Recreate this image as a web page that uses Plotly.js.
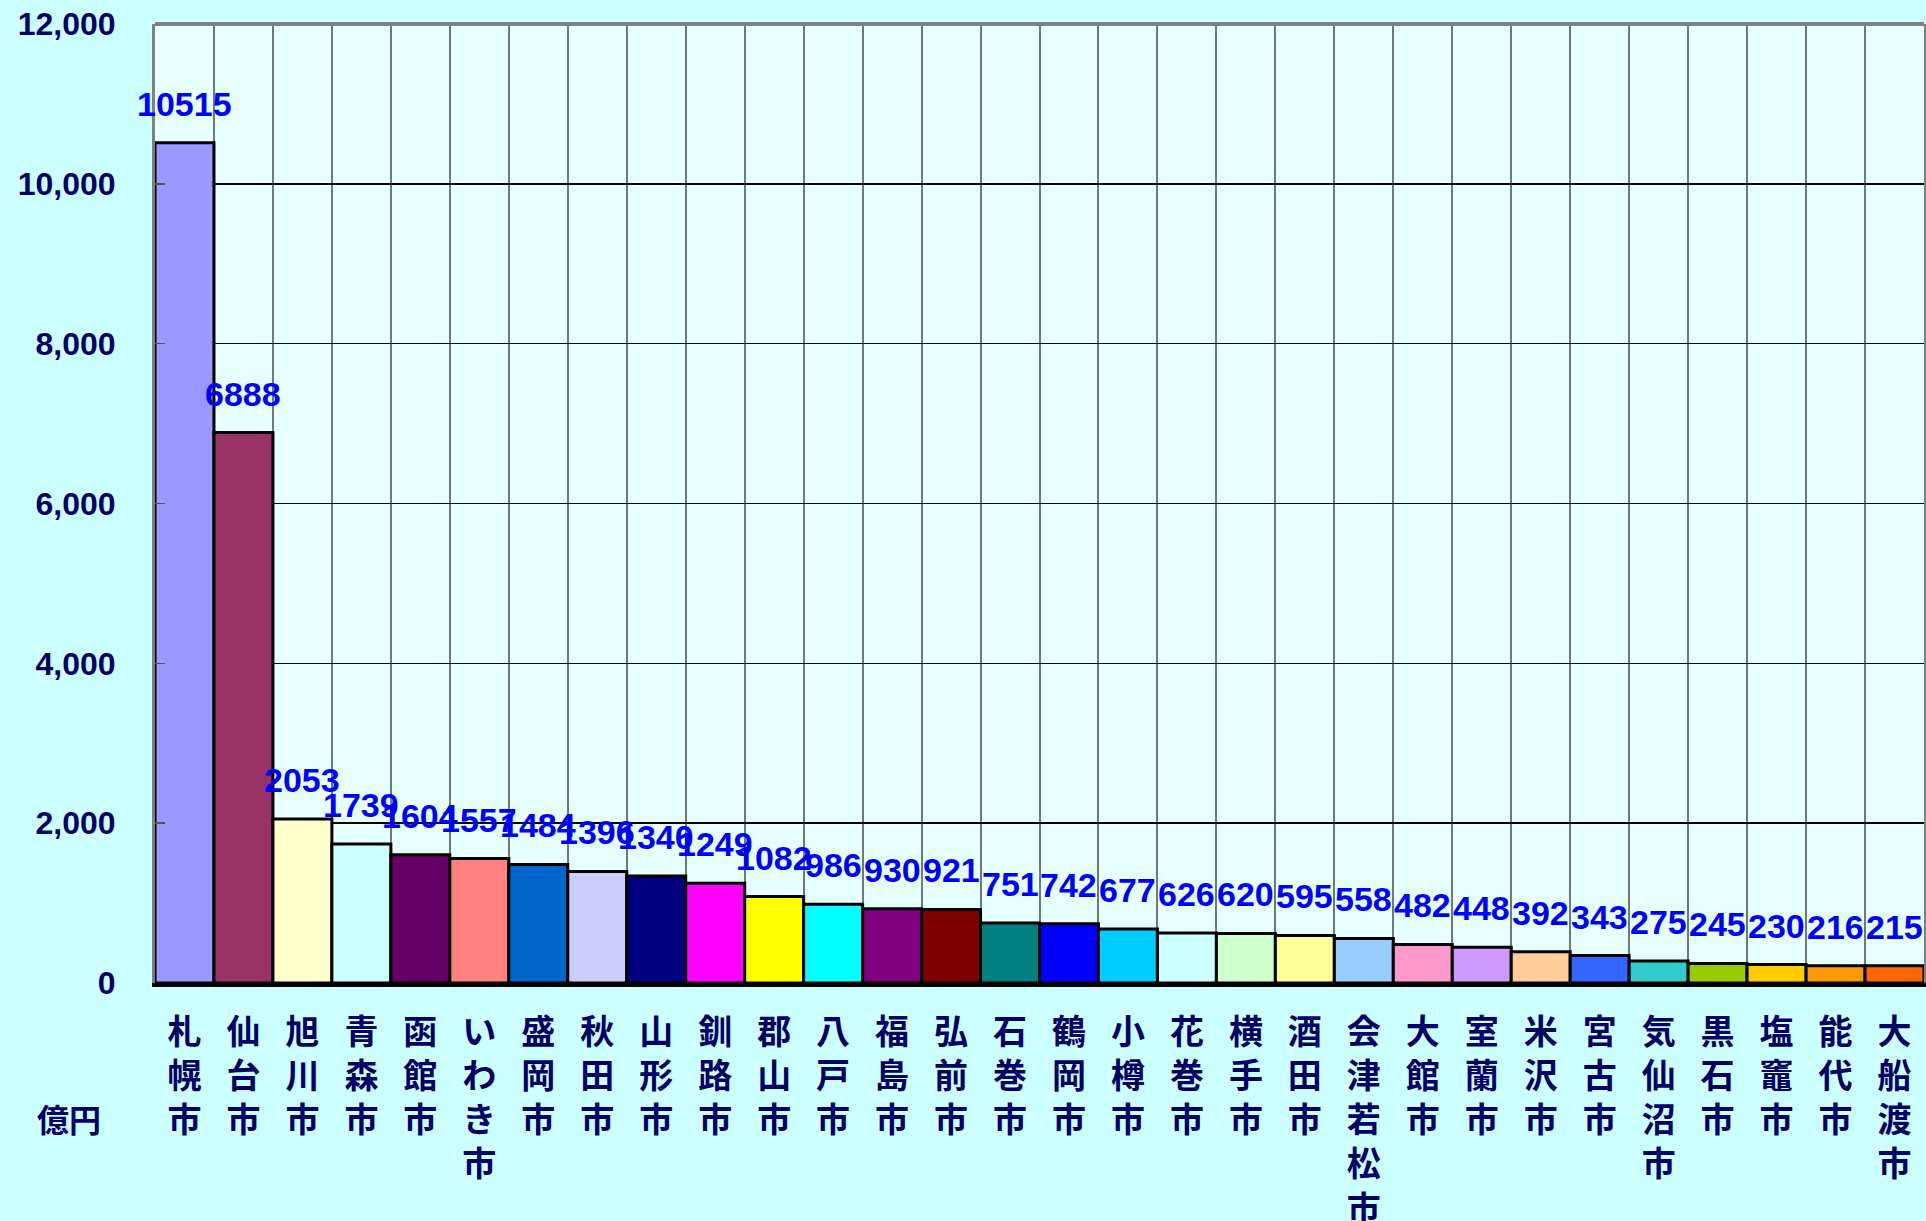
<!DOCTYPE html>
<html>
<head>
<meta charset="utf-8">
<script src="https://cdn.plot.ly/plotly-3.0.1.min.js"></script>
<style>
html,body{margin:0;padding:0;background:#ccffff;}
#chart{width:1926px;height:1221px;}
</style>
</head>
<body>
<div id="chart"></div>
<script>
const cities = ["札幌市","仙台市","旭川市","青森市","函館市","いわき市","盛岡市","秋田市","山形市","釧路市",
  "郡山市","八戸市","福島市","弘前市","石巻市","鶴岡市","小樽市","花巻市","横手市","酒田市",
  "会津若松市","大館市","室蘭市","米沢市","宮古市","気仙沼市","黒石市","塩竈市","能代市","大船渡市"];
const values = [10515,6888,2053,1739,1604,1557,1484,1396,1340,1249,
  1082,986,930,921,751,742,677,626,620,595,
  558,482,448,392,343,275,245,230,216,215];
const barColors = ["#9999ff","#993366","#ffffcc","#ccffff","#660066","#ff8080","#0066cc","#ccccff","#000080","#ff00ff",
  "#ffff00","#00ffff","#800080","#800000","#008080","#0000ff","#00ccff","#ccffff","#ccffcc","#ffff99",
  "#99ccff","#ff99cc","#cc99ff","#ffcc99","#3366ff","#33cccc","#99cc00","#ffcc00","#ff9900","#ff6600"];
const yTickVals = [0,2000,4000,6000,8000,10000,12000];
const yTickText = ["0","2,000","4,000","6,000","8,000","10,000","12,000"];
const unitLabel = "億円";

const verticalText = s => Array.from(s).join("<br>");

const trace = {
  type: "bar",
  x: cities,
  y: values,
  marker: {color: barColors, line: {color: "#000000", width: 3}},
  hoverinfo: "x+y"
};

const annotations = cities.map((c, i) => ({
  x: c, y: values[i], xref: "x", yref: "y",
  text: String(values[i]), showarrow: false,
  yanchor: "bottom", xanchor: "center", yshift: 18,
  font: {family: "Liberation Sans, Arial, sans-serif", size: 34, color: "#0000ff", weight: "bold"}
}));
annotations.push({
  x: -0.068, y: -0.141, xref: "paper", yref: "paper", xanchor: "left", yanchor: "middle",
  text: unitLabel, showarrow: false,
  font: {family: "Noto Sans CJK JP", size: 32, color: "#000066", weight: "bold"}
});

const layout = {
  width: 1926, height: 1221,
  margin: {l: 155, r: 2, t: 24, b: 238},
  paper_bgcolor: "#ccffff",
  plot_bgcolor: "#e6ffff",
  bargap: 0,
  showlegend: false,
  xaxis: {
    type: "category",
    tickson: "boundaries",
    tickmode: "array",
    tickvals: cities,
    ticktext: cities.map(verticalText),
    showgrid: true, gridcolor: "#6e7a7a", gridwidth: 2,
    ticks: "", showline: true, linecolor: "#000000", linewidth: 4,
    ticklabelstandoff: 16,
    tickangle: 0,
    tickfont: {family: "Noto Sans CJK JP", size: 34, color: "#000066", weight: "bold"},
    range: [-0.5, cities.length - 0.5],
    fixedrange: true
  },
  yaxis: {
    range: [0, 12000],
    tickmode: "array", tickvals: yTickVals, ticktext: yTickText,
    showgrid: true, gridcolor: "#000000", gridwidth: 1.5,
    zeroline: false,
    ticks: "inside", ticklen: 10, tickcolor: "#555555", tickwidth: 1.5,
    showline: true, linecolor: "#808080", linewidth: 3, mirror: true,
    ticklabelstandoff: 30,
    tickfont: {family: "Liberation Sans, Arial, sans-serif", size: 32, color: "#000066", weight: "bold"},
    fixedrange: true
  },
  shapes: [{
    type: "line", xref: "paper", yref: "paper", x0: 0, x1: 1, y0: 1, y1: 1,
    line: {color: "#808080", width: 4}
  }],
  annotations: annotations
};

Plotly.newPlot("chart", [trace], layout, {displayModeBar: false, staticPlot: true});
</script>
</body>
</html>
